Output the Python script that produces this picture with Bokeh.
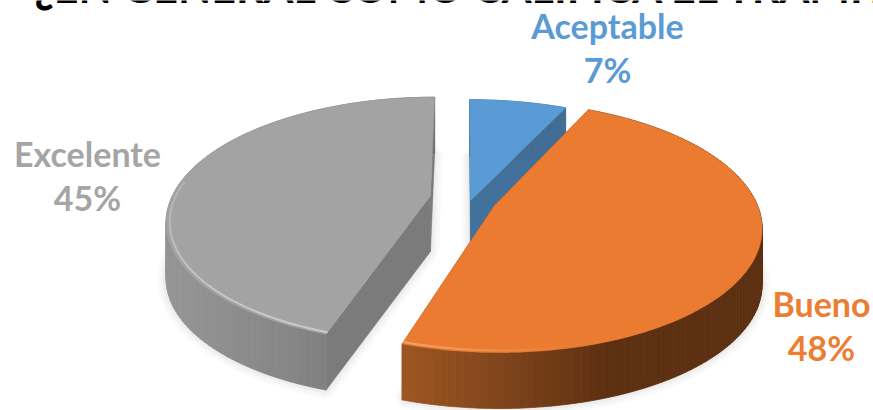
import math
from bokeh.plotting import figure
from bokeh.models import ColumnDataSource
from bokeh.core.properties import value
from bokeh.embed import file_html
from bokeh.resources import INLINE

title_text = "¿EN GENERAL COMO CALIFICA EL TRAMITE?"
categories = ["Aceptable", "Bueno", "Excelente"]
shares = [7, 48, 45]
labels = ["7%", "48%", "45%"]

text_colors = ["#5B9BD5", "#ED7D31", "#A5A5A5"]
top_colors = ["#5B9BD5", "#EA7B30", "#A3A3A3"]
side_colors = ["#42719C", "#8A4A1C", "#7B7B7B"]
rim_left = [(66, 110, 150), (158, 87, 35), (150, 150, 150)]
rim_right = [(66, 110, 150), (93, 48, 18), (114, 114, 114)]
rim_span = [1.0, 0.57, 1.0]
bevel = ["#7FB2E0", "#F6B07A", "#D4D4D4"]

# slice placement on the page (exploded): apex x, apex y, R, Q, k, convergence
place = [
    (470, 200, 266, 121, 0.20, -1),
    (494, 205, 263, 122, 0.17, -4),
    (430, 195, 258, 118, 0.20, 5),
]
depth = 56
label_pos = [(607, 25, 69), (821, 303, 347), (87, 153, 197)]

W, H = 873, 410
p = figure(width=W, height=H, x_range=(0, W), y_range=(H, 0),
           output_backend="svg", toolbar_location=None, min_border=0,
           outline_line_color=None, background_fill_color="white",
           border_fill_color="white")
p.axis.visible = False
p.grid.visible = False


def project(theta, pl):
    cx, cy, R, Q, k, s = pl
    u, v = math.sin(theta), math.cos(theta)
    w = 1 + k * v
    return cx + R * u / w + s * v / w, cy - Q * v / w


def lerp(a, b, t):
    return "#%02x%02x%02x" % tuple(round(a[i] + (b[i] - a[i]) * t) for i in range(3))


total = sum(shares)
spans, cum = [], 0
for s in shares:
    spans.append((2 * math.pi * cum / total, 2 * math.pi * (cum + s) / total))
    cum += s

arcs, thetas = [], []
for (a0, a1), pl in zip(spans, place):
    n = max(8, int((a1 - a0) * 40))
    th = [a0 + (a1 - a0) * i / n for i in range(n + 1)]
    thetas.append(th)
    arcs.append([project(t, pl) for t in th])

# soft shadows below the slices
for arc, pl in zip(arcs, place):
    xs = [pl[0]] + [a[0] for a in arc]
    ys = [pl[1] + depth] + [a[1] + depth for a in arc]
    for lw, al in ((17, 0.018), (11, 0.022), (6, 0.028)):
        p.patch(xs, ys, fill_color="black", fill_alpha=0.03, line_color="black",
                line_alpha=al, line_width=lw)

for i in [0, 2, 1]:
    arc, pl, th = arcs[i], place[i], thetas[i]
    # radial faces
    for end in (arc[0], arc[-1]):
        p.patch([pl[0], end[0], end[0], pl[0]],
                [pl[1], end[1], end[1] + depth, pl[1] + depth],
                fill_color=side_colors[i], line_color=side_colors[i], line_width=0.5)
    # outer wall, shaded from left to right
    xmin = min(a[0] for a in arc)
    xmax = max(a[0] for a in arc)
    qx, qy, qc = [], [], []
    for a, b in zip(arc[:-1], arc[1:]):
        t = min(1.0, ((a[0] + b[0]) / 2 - xmin) / (xmax - xmin) / rim_span[i])
        qx.append([a[0], b[0], b[0], a[0]])
        qy.append([a[1], b[1], b[1] + depth, a[1] + depth])
        qc.append(lerp(rim_left[i], rim_right[i], t))
    p.patches("x", "y", fill_color="c", line_color="c", line_width=0.8,
              source=ColumnDataSource(dict(x=qx, y=qy, c=qc)))
    # top face
    p.patch([pl[0]] + [a[0] for a in arc], [pl[1]] + [a[1] for a in arc],
            fill_color=top_colors[i], line_color=top_colors[i], line_width=0.5)
    # rim highlight on the front part, fading out
    mx, my, ma = [], [], []
    for j in range(len(arc) - 1):
        if math.cos(th[j]) > 0.1:
            continue
        t = (arc[j][0] - xmin) / (xmax - xmin)
        if i == 1:
            alpha = max(0.0, 0.8 * (1 - t / 0.5))
        else:
            alpha = 0.35 + 0.5 * min(1.0, -math.cos(th[j]))
        if alpha <= 0:
            continue
        inset = 0.014
        pts = [(arc[n][0] + (pl[0] - arc[n][0]) * inset,
                arc[n][1] + (pl[1] - arc[n][1]) * inset) for n in (j, j + 1)]
        mx.append([pts[0][0], pts[1][0]])
        my.append([pts[0][1], pts[1][1]])
        ma.append(alpha)
    if mx:
        p.multi_line("x", "y", line_color=bevel[i], line_width=2, line_alpha="a",
                     source=ColumnDataSource(dict(x=mx, y=my, a=ma)))

for i, (cat, lab) in enumerate(zip(categories, labels)):
    x, y1, y2 = label_pos[i]
    p.text([x], [y1], text=[cat], text_font=value("Lato"), text_font_style="bold",
           text_font_size="34px", text_color=text_colors[i], text_align="center",
           text_baseline="middle")
    p.text([x], [y2], text=[lab], text_font=value("Lato"), text_font_style="bold",
           text_font_size="34px", text_color=text_colors[i], text_align="center",
           text_baseline="middle")

p.text([34], [-14], text=[title_text], text_font=value("Lato"), text_font_style="bold",
       text_font_size="43px", text_color="black", text_align="left",
       text_baseline="alphabetic")

open("out.html", "w").write(file_html(p, INLINE))
